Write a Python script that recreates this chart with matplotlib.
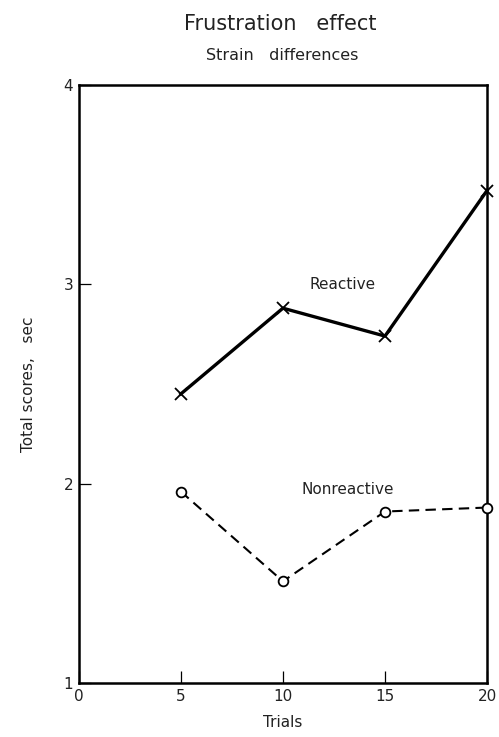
import numpy as np
import matplotlib.pyplot as plt

trials = [5, 10, 15, 20]
reactive = [2.45, 2.88, 2.74, 3.47]
nonreactive = [1.96, 1.51, 1.86, 1.88]

x_ticks = [0, 5, 10, 15, 20]
y_ticks = [1, 2, 3, 4]

plt.rcParams['font.family'] = ['DejaVu Sans']

fig = plt.figure(figsize=(4.99, 7.37), dpi=100)
ax = fig.add_axes([0.158, 0.0733, 0.818, 0.8115])

ax.plot(trials, reactive, color='black', lw=2.4, marker='x', ms=9,
        mew=1.3, clip_on=False, zorder=3)
ax.plot(trials, nonreactive, color='black', lw=1.5, ls=(0, (5, 3)),
        marker='o', ms=7, mfc='white', mew=1.3, clip_on=False, zorder=3)

ax.text(12.9, 3.0, 'Reactive', fontsize=11, ha='center', va='center',
        color='#222222')
ax.text(13.2, 1.97, 'Nonreactive', fontsize=11, ha='center', va='center',
        color='#222222')

ax.set_xlim(0, 20)
ax.set_ylim(1, 4)
ax.set_xticks(x_ticks)
ax.set_yticks(y_ticks)
ax.tick_params(axis='both', direction='in', width=0.9, labelsize=11,
               labelcolor='#222222')
ax.tick_params(axis='x', length=9, pad=4)
ax.tick_params(axis='y', length=8.5, pad=4)
for s in ax.spines.values():
    s.set_linewidth(1.8)

ax.set_xlabel('Trials', fontsize=11, labelpad=8, color='#222222')
ax.set_ylabel('Total scores,   sec', fontsize=11, labelpad=20,
              color='#222222')

fig.text(0.561, 0.967, 'Frustration   effect', fontsize=15,
         ha='center', va='center', color='#222222')
fig.text(0.565, 0.925, 'Strain   differences', fontsize=11.5,
         ha='center', va='center', color='#222222')

fig.savefig('out.png', dpi=100)
